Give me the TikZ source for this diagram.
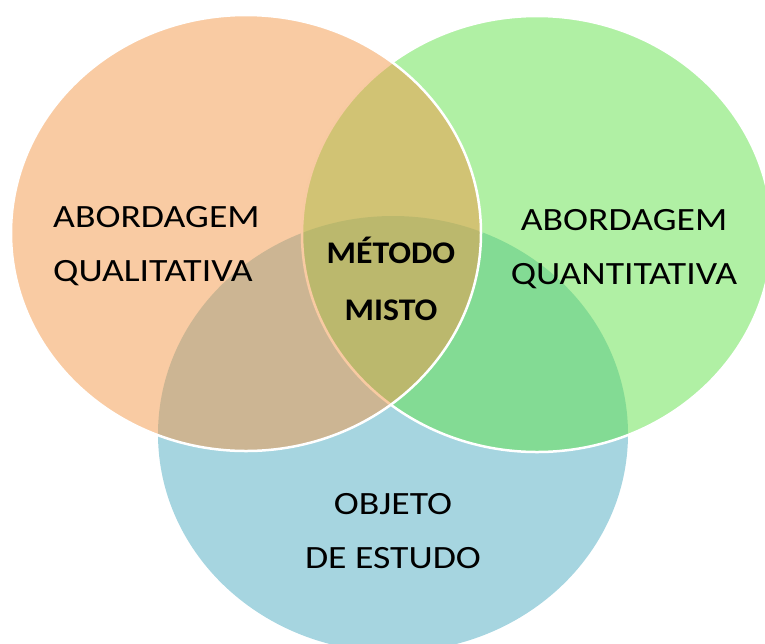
\documentclass[tikz,border=0pt]{standalone}
\usepackage{fontspec}
\setmainfont{Carlito}
\usetikzlibrary{shapes.geometric}
\definecolor{oran}{RGB}{243,151,71}
\definecolor{gren}{RGB}{97,225,73}
\definecolor{blu}{RGB}{166,213,224}
\begin{document}
\begin{tikzpicture}[x=1pt,y=-1pt,
  setbox/.style={ellipse, inner sep=0pt, minimum width=470pt, minimum height=436pt},
  ring/.style={setbox, fill opacity=0.5, draw=white, line width=2.5pt},
  lbl/.style={font=\fontsize{32.5}{54}\selectfont, xscale=1.16, transform shape, inner sep=0pt},
  blbl/.style={font=\fontsize{31.5}{57}\selectfont\bfseries, xscale=1.07, transform shape, inner sep=0pt, align=center, anchor=base}]
\useasboundingbox (0,0) rectangle (765,643);
\clip (0,0) rectangle (765,643);
\node[setbox, fill=blu] (obj) at (393,434) {};
\node[ring, fill=gren] (quan) at (537,234) {};
\node[ring, fill=oran] (qual) at (246,233) {};
\node[lbl, align=left, anchor=base west] (tqual) at (53,281) {ABORDAGEM\\QUALITATIVA};
\node[lbl, align=center, anchor=base] (tquan) at (624,284) {ABORDAGEM\\QUANTITATIVA};
\node[blbl] (tmix) at (391,320) {MÉTODO\\MISTO};
\node[lbl, align=center, anchor=base] (tobj) at (393,568) {OBJETO\\DE ESTUDO};
\end{tikzpicture}
\end{document}
